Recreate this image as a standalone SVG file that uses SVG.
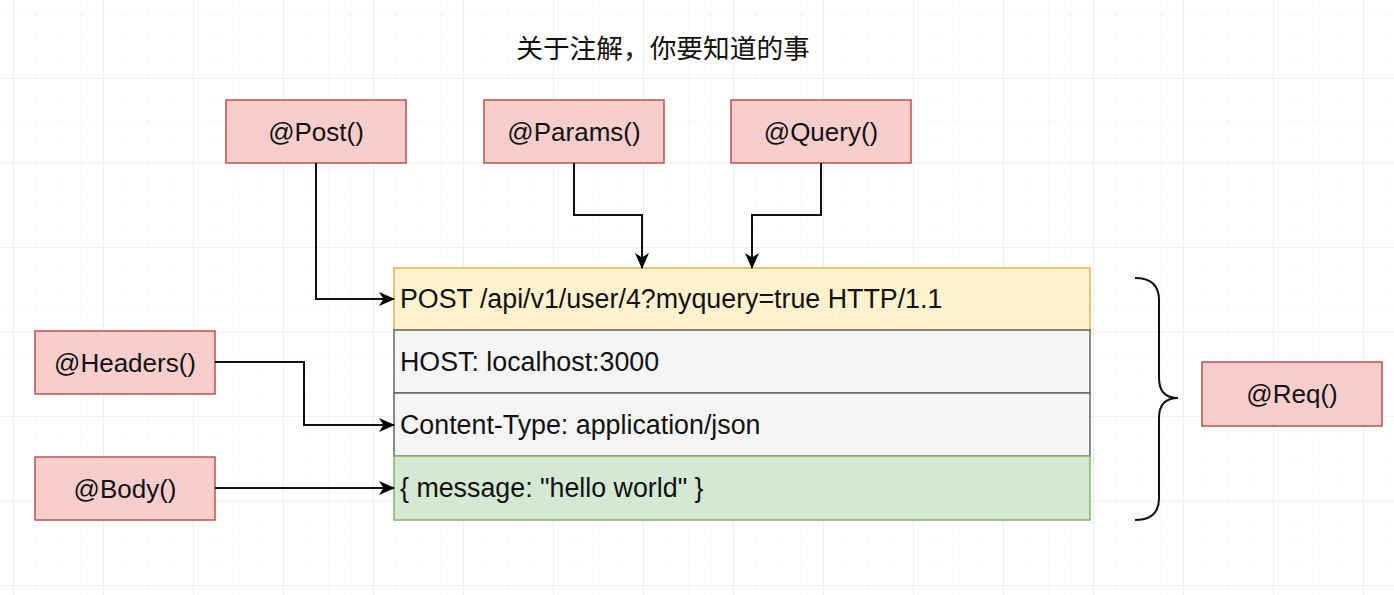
<svg xmlns="http://www.w3.org/2000/svg" width="1394" height="595" viewBox="0 0 1394 595">
<defs>
<pattern id="minor" patternUnits="userSpaceOnUse" x="13" y="78" width="22.5" height="21.125">
<path d="M0,0 L22.5,0 M0,0 L0,21.125" fill="none" stroke="#f4f4f4" stroke-width="1"/>
</pattern>
<pattern id="major" patternUnits="userSpaceOnUse" x="13" y="78" width="90" height="84.5">
<path d="M0,0 L90,0 M0,0 L0,84.5" fill="none" stroke="#e8e8e8" stroke-width="1.2"/>
</pattern>
<marker id="arr" viewBox="0 0 16 14" refX="15" refY="7" markerWidth="16" markerHeight="14" markerUnits="userSpaceOnUse" orient="auto">
<path d="M0,0 L16,7 L0,14 L4.5,7 Z" fill="#000"/>
</marker>
<style>
.ann rect{fill:#f8cecc;stroke:#b85450;stroke-width:1.5}
.t{font-family:"Liberation Sans",Arial,Helvetica,sans-serif;font-size:26px;fill:#111}
.r{font-size:26.8px}
.c{text-anchor:middle}
.con path{fill:none;stroke:#111;stroke-width:2;marker-end:url(#arr)}
</style>
</defs>
<rect width="1394" height="595" fill="#ffffff"/>
<rect width="1394" height="595" fill="url(#minor)"/>
<rect width="1394" height="595" fill="url(#major)"/>

<text class="t c" x="663" y="58" style="font-family:'Noto Sans CJK SC','Liberation Sans',sans-serif;font-size:26.7px">关于注解，你要知道的事</text>

<g id="post" class="ann"><rect x="226" y="100" width="180" height="63"/><text class="t c" x="316" y="141">@Post()</text></g>
<g id="params" class="ann"><rect x="484" y="100" width="180" height="63"/><text class="t c" x="574" y="141">@Params()</text></g>
<g id="query" class="ann"><rect x="731" y="100" width="180" height="63"/><text class="t c" x="821" y="141">@Query()</text></g>
<g id="headers" class="ann"><rect x="35" y="331" width="180" height="63"/><text class="t c" x="125" y="372">@Headers()</text></g>
<g id="body" class="ann"><rect x="35" y="457" width="180" height="63"/><text class="t c" x="125" y="498">@Body()</text></g>
<g id="req" class="ann"><rect x="1202" y="362" width="180" height="64"/><text class="t c" x="1292" y="403">@Req()</text></g>

<g id="request">
<g id="line"><rect x="394" y="268" width="696" height="62" fill="#fff2cc" stroke="#d6b656" stroke-width="1.5"/><text class="t r" x="400" y="308">POST /api/v1/user/4?myquery=true HTTP/1.1</text></g>
<g id="host"><rect x="394" y="330" width="696" height="63" fill="#f5f5f5" stroke="#666666" stroke-width="1.5"/><text class="t r" x="400" y="371">HOST: localhost:3000</text></g>
<g id="ctype"><rect x="394" y="393" width="696" height="63" fill="#f5f5f5" stroke="#666666" stroke-width="1.5"/><text class="t r" x="400" y="434">Content-Type: application/json</text></g>
<g id="payload"><rect x="394" y="456" width="696" height="64" fill="#d5e8d4" stroke="#82b366" stroke-width="1.5"/><text class="t r" x="400" y="497">{ message: "hello world" }</text></g>
</g>

<g id="brace"><path d="M1135,278 Q1159,278 1159,300 L1159,378 Q1159,398 1178,398 Q1159,398 1159,418 L1159,498 Q1159,520 1135,520" fill="none" stroke="#111" stroke-width="2"/></g>

<g id="connectors" class="con">
<path d="M316,163 L316,299 L394,299"/>
<path d="M574,163 L574,215 L642,215 L642,268"/>
<path d="M821,163 L821,215 L752,215 L752,268"/>
<path d="M215,362 L304,362 L304,425 L394,425"/>
<path d="M215,488 L394,488"/>
</g>
</svg>
